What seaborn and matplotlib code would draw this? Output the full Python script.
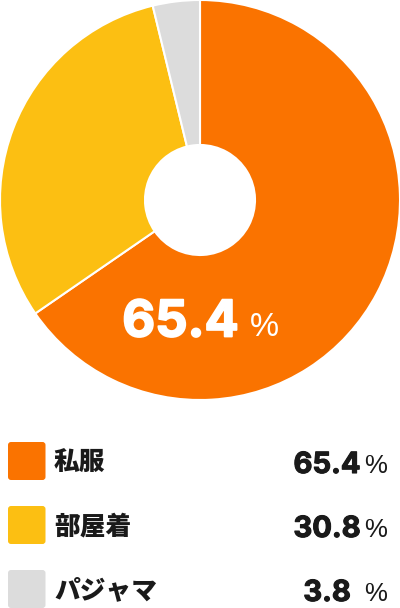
import matplotlib
matplotlib.use("Agg")
import matplotlib.pyplot as plt
from matplotlib.patches import FancyBboxPatch
import matplotlib.patheffects as pe
import seaborn as sns

categories = ["私服", "部屋着", "パジャマ"]
values = [65.4, 30.8, 3.8]
value_labels = ["65.4", "30.8", "3.8"]
colors = ["#FA7300", "#FCBF12", "#DCDCDC"]

sns.set_theme(style="white")
plt.rcParams['font.family'] = ['Noto Sans CJK JP', 'DejaVu Sans']

W, H = 400, 608
DPI = 100
fig = plt.figure(figsize=(W / DPI, H / DPI), dpi=DPI)
fig.patch.set_facecolor("white")

# donut
ax = fig.add_axes([0, (H - 400) / H, 1, 400 / H])
ax.pie(values, colors=colors, startangle=90, counterclock=False, radius=1,
       wedgeprops=dict(width=0.725, edgecolor="white", linewidth=1.5))
ax.set_xlim(-1, 1)
ax.set_ylim(-1, 1)
ax.set_aspect("equal")
ax.axis("off")

# overlay in pixel coords
ov = fig.add_axes([0, 0, 1, 1], facecolor="none")
ov.set_xlim(0, W)
ov.set_ylim(H, 0)
ov.axis("off")

num_font = ["Inter", "DejaVu Sans"]
pct_font = ["Liberation Sans", "DejaVu Sans"]

ov.text(180.5, 336.5, value_labels[0], ha="center", va="baseline", color="white",
        fontsize=36.5, fontweight="bold", family=num_font,
        path_effects=[pe.withStroke(linewidth=1.3, foreground="white")])
ov.text(249.5, 336, "%", ha="left", va="baseline", color="white",
        fontsize=23.5, family=pct_font)

for i, (cat, lab, col) in enumerate(zip(categories, value_labels, colors)):
    top = 442 + i * 64
    ov.add_patch(FancyBboxPatch((8, top), 37.5, 38,
                                boxstyle="round,pad=0,rounding_size=3",
                                facecolor=col, edgecolor="none"))
    ov.text(54, top + 20.5, cat, ha="left", va="center", color="#1a1a1a",
            fontsize=18.5, fontweight="heavy",
            family=["Noto Sans CJK JP", "DejaVu Sans"])
    ov.text(327, top + 31, lab, ha="center", va="baseline", color="#1a1a1a",
            fontsize=21, fontweight="bold", family=num_font,
            path_effects=[pe.withStroke(linewidth=0.8, foreground="#1a1a1a")])
    ov.text(364.5, top + 31, "%", ha="left", va="baseline", color="#1a1a1a",
            fontsize=18.5, family=pct_font)

fig.savefig("out.png", dpi=DPI, facecolor="white")
